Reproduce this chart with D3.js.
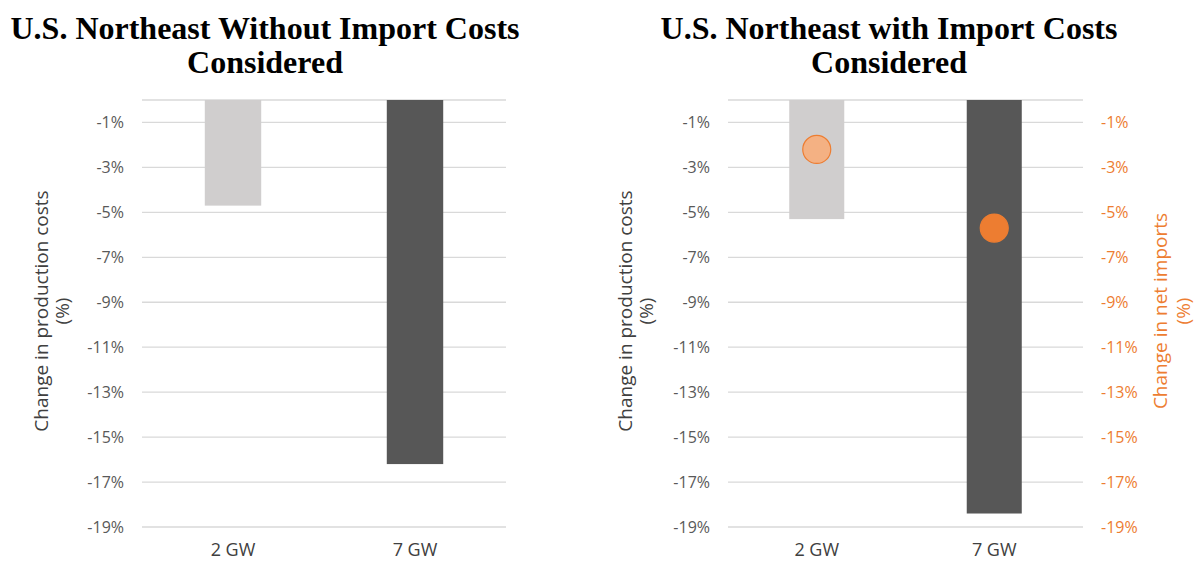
<!DOCTYPE html>
<html>
<head>
<meta charset="utf-8">
<script src="https://cdn.jsdelivr.net/npm/d3@7"></script>
<style>
  body { margin: 0; background: #fff; }
  text { font-family: "Open Sans", "Liberation Sans", sans-serif; }
</style>
</head>
<body>
<div id="main"></div>
<script>
// DATA
const categories = ["2 GW", "7 GW"]
const costNoImport = [-4.7, -16.2]
const costWithImport = [-5.3, -18.4]
const netImports = [-2.2, -5.7]
const tickValues = [-1, -3, -5, -7, -9, -11, -13, -15, -17, -19]

// COLORS
const light = '#d0cece'
const dark = '#575757'
const orange = '#ed7d31'
const lightOrange = '#f4b183'
const grid = '#d9d9d9'
const label = '#595959'

const width = 1198, height = 565

let svg = d3.select("#main").append("svg")
    .attr("width", width)
    .attr("height", height)

let y = d3.scaleLinear().domain([0, -19]).range([100, 527])

function drawPanel(opts) {
    let g = svg.append("g")
    let x = d3.scaleBand().domain(categories)
        .range([opts.x0, opts.x1])
        .paddingInner(0.69).paddingOuter(0.345)

    // title
    let t = g.append("text")
        .attr("x", opts.titleX)
        .attr("text-anchor", "middle")
        .style("font-family", "'Liberation Serif', 'Times New Roman', serif")
        .style("font-weight", "bold")
        .style("font-size", "32px")
        .attr("fill", "#000")
    opts.title.forEach((line, i) => {
        t.append("tspan").attr("x", opts.titleX).attr("y", 39 + i * 34).text(line)
    })

    // gridlines
    g.selectAll("line.grid").data([0].concat(tickValues))
        .enter().append("line")
            .attr("x1", opts.x0).attr("x2", opts.x1)
            .attr("y1", d => y(d)).attr("y2", d => y(d))
            .attr("stroke", grid).attr("stroke-width", 1.3)

    // left axis
    let yAxis = d3.axisLeft(y).tickValues(tickValues).tickSize(0).tickPadding(0)
        .tickFormat(d => d + "%")
    let ax = g.append("g").attr("transform", `translate(${opts.labelX},0)`).call(yAxis)
    ax.select(".domain").remove()
    ax.selectAll("text").attr("fill", label).style("font-size", "16px")

    // bars
    g.selectAll("rect.bar").data(opts.values)
        .enter().append("rect")
            .attr("x", (d, i) => x(categories[i]))
            .attr("width", x.bandwidth())
            .attr("y", y(0))
            .attr("height", d => y(d) - y(0))
            .attr("fill", (d, i) => i === 0 ? light : dark)

    // x labels
    g.selectAll("text.cat").data(categories)
        .enter().append("text")
            .attr("x", d => x(d) + x.bandwidth() / 2)
            .attr("y", 556)
            .attr("text-anchor", "middle")
            .attr("fill", "#404040")
            .style("font-size", "18px")
            .text(d => d)

    // y title
    let yt = g.append("text")
        .attr("transform", `translate(${opts.yTitleX},311) rotate(-90)`)
        .attr("text-anchor", "middle")
        .attr("fill", "#404040")
        .style("font-size", "19px")
    yt.append("tspan").attr("x", 0).attr("y", 0).text("Change in production costs")
    yt.append("tspan").attr("x", 0).attr("y", 21).text("(%)")

    return x
}

drawPanel({
    x0: 142, x1: 506, labelX: 124, titleX: 265, yTitleX: 48,
    title: ["U.S. Northeast Without Import Costs", "Considered"],
    values: costNoImport
})

let x2 = drawPanel({
    x0: 728, x1: 1083, labelX: 710, titleX: 889, yTitleX: 632,
    title: ["U.S. Northeast with Import Costs", "Considered"],
    values: costWithImport
})

// right axis (net imports)
let yAxisR = d3.axisRight(y).tickValues(tickValues).tickSize(0).tickPadding(0)
    .tickFormat(d => d + "%")
let axR = svg.append("g").attr("transform", "translate(1101,0)").call(yAxisR)
axR.select(".domain").remove()
axR.selectAll("text").attr("fill", orange).style("font-size", "16px")

let rt = svg.append("text")
    .attr("transform", "translate(1167,311) rotate(-90)")
    .attr("text-anchor", "middle")
    .attr("fill", orange)
    .style("font-size", "19px")
rt.append("tspan").attr("x", 0).attr("y", 0).text("Change in net imports")
rt.append("tspan").attr("x", 0).attr("y", 23).text("(%)")

// dots
svg.selectAll("circle.dot").data(netImports)
    .enter().append("circle")
        .attr("cx", (d, i) => x2(categories[i]) + x2.bandwidth() / 2)
        .attr("cy", d => y(d))
        .attr("r", 14)
        .attr("fill", (d, i) => i === 0 ? lightOrange : orange)
        .attr("stroke", orange)
        .attr("stroke-width", 1.2)
</script>
</body>
</html>
